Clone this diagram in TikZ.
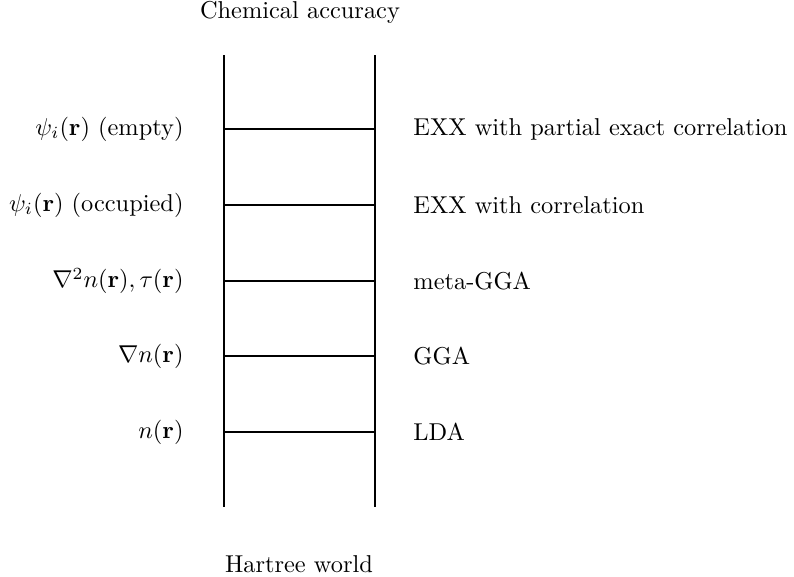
\documentclass[tikz,border=0pt]{standalone}
\begin{document}
\begin{tikzpicture}[x=0.41pt,y=-0.41pt,
  rail/.style={line width=0.8pt},
  lab/.style={inner sep=0pt},
  leftlab/.style={lab,anchor=east},
  rightlab/.style={lab,anchor=west}]
\useasboundingbox (0,0) rectangle (794,577);
\coordinate (lt) at (224,55);
\coordinate (lb) at (224,507);
\coordinate (rt) at (375,55);
\coordinate (rb) at (375,507);
\draw[rail] (lt) -- (lb);
\draw[rail] (rt) -- (rb);
\foreach \y/\n in {129/a,205/b,281/c,356/d,432/e}{
  \coordinate (l\n) at (224,\y);
  \coordinate (r\n) at (375,\y);
  \draw[rail] (l\n) -- (r\n);
}
\node[lab] (top) at (300,12) {Chemical accuracy};
\node[lab] (bot) at (299,564) {Hartree world};
\node[leftlab] (L1) at (184,129) {$\psi_i(\mathbf{r})$ (empty)};
\node[leftlab] (L2) at (184,205) {$\psi_i(\mathbf{r})$ (occupied)};
\node[leftlab] (L3) at (184,281) {$\nabla^2 n(\mathbf{r}),\tau(\mathbf{r})$};
\node[leftlab] (L4) at (184,356) {$\nabla n(\mathbf{r})$};
\node[leftlab] (L5) at (184,432) {$n(\mathbf{r})$};
\node[rightlab] (R1) at (413,129) {EXX with partial exact correlation};
\node[rightlab] (R2) at (413,205) {EXX with correlation};
\node[rightlab] (R3) at (413,281) {meta-GGA};
\node[rightlab] (R4) at (413,356) {GGA};
\node[rightlab] (R5) at (413,432) {LDA};
\end{tikzpicture}
\end{document}
